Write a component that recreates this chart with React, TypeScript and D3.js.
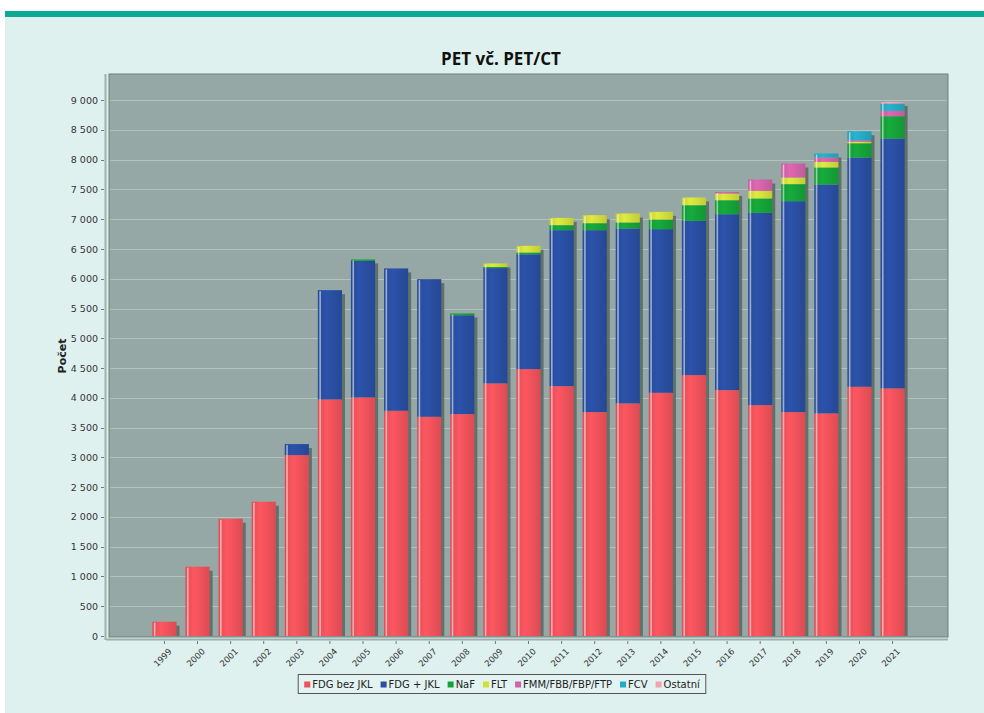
import React, { useEffect, useRef } from "react";
import * as d3 from "d3";

const years = ["1999","2000","2001","2002","2003","2004","2005","2006","2007","2008","2009","2010","2011","2012","2013","2014","2015","2016","2017","2018","2019","2020","2021"];
const fdgBezJkl = [240,1164,1970,2255,3039,3974,4008,3783,3682,3727,4243,4483,4197,3761,3907,4085,4382,4130,3878,3761,3739,4186,4159];
const fdgJkl = [0,0,0,0,185,1835,2292,2391,2312,1661,1937,1929,2620,3056,2938,2749,2591,2955,3229,3543,3845,3851,4197];
const naf = [0,0,0,0,0,0,25,0,0,30,20,30,84,117,101,162,263,235,242,286,286,240,375];
const flt = [0,0,0,0,0,0,0,0,0,0,58,111,122,135,151,128,130,113,128,112,94,25,0];
const fmm = [0,0,0,0,0,0,0,0,0,0,0,0,0,0,0,0,0,25,191,235,73,25,89];
const fcv = [0,0,0,0,0,0,0,0,0,0,0,0,0,0,0,0,0,0,0,0,68,151,124];
const ostatni = [0,0,0,0,0,0,0,0,0,0,0,0,0,0,0,0,0,0,0,0,0,0,27];
const seriesNames = ["FDG bez JKL","FDG + JKL","NaF","FLT","FMM/FBB/FBP/FTP","FCV","Ostatní"];
const seriesColors = ["#f0525b","#2a4fa2","#15a339","#d3df3b","#d363a8","#25abc3","#f2a2b3"];
const yTicks = [0,500,1000,1500,2000,2500,3000,3500,4000,4500,5000,5500,6000,6500,7000,7500,8000,8500,9000];

export default function App() {
  const ref = useRef<SVGSVGElement>(null);
  useEffect(() => {
    const svg = d3.select(ref.current);
    svg.selectAll("*").remove();
    const W = 984, H = 713;
    const L = 109, R = 948, T = 74, B = 637;

    svg.append("rect").attr("width", W).attr("height", H).attr("fill", "#ffffff");
    svg.append("rect").attr("x", 5).attr("y", 17).attr("width", W - 5).attr("height", H - 17).attr("fill", "#dff1ef");
    svg.append("rect").attr("x", 5).attr("y", 11).attr("width", W - 5).attr("height", 6).attr("fill", "#0caa94");

    const series = [fdgBezJkl, fdgJkl, naf, flt, fmm, fcv, ostatni];
    const keys = seriesNames;
    const table = years.map((yr, i) => {
      const row: any = { year: yr };
      keys.forEach((k, j) => (row[k] = series[j][i]));
      return row;
    });
    const stacked = d3.stack().keys(keys)(table);

    const x = d3.scaleBand().domain(years).range([L, R]).paddingInner(0.27).paddingOuter(1.31);
    const y = d3.scaleLinear().domain([0, 9440]).range([636, T]);

    // title
    svg.append("text").attr("x", 501).attr("y", 65).attr("text-anchor", "middle")
      .attr("font-family", "'Open Sans', sans-serif").attr("font-weight", "bold").attr("font-size", 17)
      .attr("fill", "#111").text("PET vč. PET/CT");

    // plot bg
    svg.append("rect").attr("x", L).attr("y", T).attr("width", R - L).attr("height", B - T)
      .attr("fill", "#95a8a5").attr("stroke", "#6e807d").attr("stroke-width", 1);

    // grid
    svg.append("g").selectAll("line").data(yTicks.filter(d => d > 0)).join("line")
      .attr("x1", L + 1).attr("x2", R - 1).attr("y1", d => Math.round(y(d)) + 0.5).attr("y2", d => Math.round(y(d)) + 0.5)
      .attr("stroke", "#b2c2bf").attr("stroke-width", 1);

    // y axis
    svg.append("line").attr("x1", 105.5).attr("x2", 105.5).attr("y1", T).attr("y2", B + 3).attr("stroke", "#9fb0ad").attr("stroke-width", 2);
    const ya = svg.append("g");
    ya.selectAll("line").data(yTicks).join("line")
      .attr("x1", 101).attr("x2", 104).attr("y1", d => Math.round(y(d)) + 0.5).attr("y2", d => Math.round(y(d)) + 0.5)
      .attr("stroke", "#777");
    const fmt = (v: number) => d3.format(",")(v).replace(/,/g, " ");
    ya.selectAll("text").data(yTicks).join("text")
      .attr("x", 98).attr("y", d => y(d) + 3.5).attr("text-anchor", "end")
      .attr("font-family", "'DejaVu Sans', sans-serif").attr("font-size", 9.5).attr("fill", "#333")
      .text(d => fmt(d));
    svg.append("text").attr("transform", "translate(66,356) rotate(-90)").attr("text-anchor", "middle")
      .attr("font-family", "'DejaVu Sans', sans-serif").attr("font-weight", "bold").attr("font-size", 11)
      .attr("fill", "#222").text("Počet");

    // x axis
    svg.append("line").attr("x1", L - 3).attr("x2", R).attr("y1", 639.5).attr("y2", 639.5).attr("stroke", "#9fb0ad").attr("stroke-width", 2);
    const xa = svg.append("g");
    xa.selectAll("line").data(years).join("line")
      .attr("x1", d => (x(d) as number) + x.bandwidth() / 2).attr("x2", d => (x(d) as number) + x.bandwidth() / 2)
      .attr("y1", 641).attr("y2", 644).attr("stroke", "#777");
    xa.selectAll("text").data(years).join("text")
      .attr("transform", d => `translate(${(x(d) as number) + x.bandwidth() / 2 + 8},${652}) rotate(-45)`)
      .attr("text-anchor", "end")
      .attr("font-family", "'DejaVu Sans', sans-serif").attr("font-size", 8.5).attr("fill", "#333")
      .text(d => d);

    // bars: shadows
    const totals = years.map((_, i) => series.reduce((s, a) => s + a[i], 0));
    const bw = x.bandwidth();
    svg.append("g").selectAll("rect").data(years).join("rect")
      .attr("x", d => (x(d) as number) + bw - 1).attr("width", 4)
      .attr("y", (d, i) => y(totals[i]) + 4).attr("height", (d, i) => 636 - y(totals[i]) - 4)
      .attr("fill", "#56675f").attr("opacity", 0.85);

    const defs = svg.append("defs");
    seriesColors.forEach((c, j) => {
      const g = defs.append("linearGradient").attr("id", "g" + j).attr("x1", "0").attr("x2", "1").attr("y1", "0").attr("y2", "0");
      const base = d3.color(c) as d3.RGBColor;
      g.append("stop").attr("offset", "0%").attr("stop-color", base.darker(0.2).formatHex());
      g.append("stop").attr("offset", "35%").attr("stop-color", base.brighter(0.15).formatHex());
      g.append("stop").attr("offset", "100%").attr("stop-color", base.darker(0.25).formatHex());
    });

    stacked.forEach((s, j) => {
      svg.append("g").selectAll("rect").data(s).join("rect")
        .attr("x", (d: any) => x(d.data.year) as number)
        .attr("width", bw)
        .attr("y", (d: any) => y(d[1]))
        .attr("height", (d: any) => Math.max(0, y(d[0]) - y(d[1])))
        .attr("fill", `url(#g${j})`);
    });

    // highlight stripe
    svg.append("g").selectAll("rect").data(years).join("rect")
      .attr("x", d => (x(d) as number) + 1.5).attr("width", 1.6)
      .attr("y", (d, i) => y(totals[i]) + 1).attr("height", (d, i) => 636 - y(totals[i]) - 1)
      .attr("fill", "#ffffff").attr("opacity", 0.55);

    // legend
    const lg = svg.append("g");
    const items = lg.selectAll("g").data(seriesNames).join("g");
    items.append("rect").attr("width", 6).attr("height", 6).attr("y", -6.5).attr("fill", (d, i) => seriesColors[i]);
    items.append("text").attr("x", 8).attr("y", 0)
      .attr("font-family", "'DejaVu Sans', sans-serif").attr("font-size", 10).attr("fill", "#222")
      .text(d => d);
    let cx = 0;
    const pos: number[] = [];
    items.each(function () {
      const t = d3.select(this).select("text").node() as SVGTextElement;
      pos.push(cx);
      cx += 8 + t.getComputedTextLength() + 8;
    });
    const totalW = cx - 8;
    const lx0 = 502 - totalW / 2;
    items.attr("transform", (d, i) => `translate(${lx0 + pos[i]},${688})`);
    lg.insert("rect", ":first-child").attr("x", lx0 - 6).attr("y", 674.5).attr("width", totalW + 12).attr("height", 19)
      .attr("fill", "#e2f3f1").attr("stroke", "#555").attr("stroke-width", 1);
  }, []);
  return (
    <svg ref={ref} width={984} height={713} style={{ position: "absolute", left: 0, top: 0 }} />
  );
}
